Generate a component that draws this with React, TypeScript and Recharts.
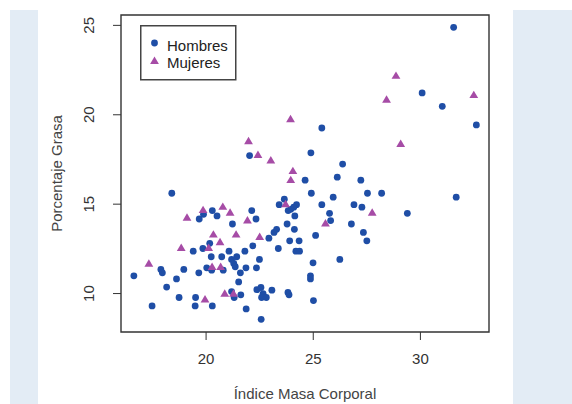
import { ScatterChart, Scatter, XAxis, YAxis, ReferenceArea, Legend } from "recharts";

// Índice de masa corporal (x) y porcentaje de grasa (y)
const hombresX = [
  31.55, 30.08, 31.02, 32.61, 25.4, 24.89, 22.03, 26.37, 26.12, 24.62, 27.22, 18.4, 24.91, 27.53, 28.19,
  31.67, 25.93, 23.65, 23.41, 25.4, 26.9, 27.27, 24.22, 24.09, 23.95, 23.83, 20.29, 22.13, 25.76, 29.39,
  20.51, 19.88, 19.68, 22.33, 24.14, 25.81, 21.23, 26.78, 23.78, 24.12, 27.34, 23.29, 23.17, 25.11, 22.93,
  23.9, 24.34, 27.5, 20.17, 22.18, 23.37, 19.85, 19.4, 21.07, 21.81, 24.19, 24.36, 20.24, 20.73, 21.43,
  21.19, 22.49, 26.24, 21.29, 24.99, 21.36, 21.86, 22.35, 20.03, 18.96, 17.89, 17.96, 19.66, 20.26, 20.8,
  21.6, 16.63, 24.87, 24.87, 18.62, 21.52, 18.16, 22.37, 22.56, 23.07, 22.66, 23.82, 23.87, 21.19, 21.62,
  18.74, 19.51, 22.59, 22.81, 21.31, 17.48, 19.49, 20.29, 25.01, 21.87, 22.57,
];
const hombresY = [
  24.89, 21.22, 20.47, 19.43, 19.26, 17.87, 17.72, 17.24, 16.51, 16.34, 16.34, 15.61, 15.61, 15.61, 15.61,
  15.39, 15.39, 15.28, 14.97, 14.97, 14.97, 14.83, 14.97, 14.83, 14.71, 14.64, 14.64, 14.64, 14.49, 14.49,
  14.34, 14.43, 14.17, 14.17, 14.34, 14.08, 13.89, 13.89, 13.89, 13.59, 13.42, 13.59, 13.42, 13.25, 13.1,
  12.95, 12.95, 12.95, 12.81, 12.67, 12.52, 12.52, 12.37, 12.37, 12.37, 12.37, 12.37, 12.06, 12.06, 12.06,
  11.91, 11.91, 11.91, 11.68, 11.72, 11.5, 11.44, 11.44, 11.44, 11.35, 11.35, 11.16, 11.16, 11.31, 11.31,
  11.16, 10.99, 10.99, 10.82, 10.82, 10.65, 10.36, 10.22, 10.34, 10.19, 10.0, 10.06, 9.93, 10.11, 9.93,
  9.78, 9.78, 9.78, 9.78, 9.78, 9.31, 9.31, 9.31, 9.61, 9.14, 8.56,
];
const mujeresX = [
  28.86, 32.49, 28.42, 23.94, 29.08, 21.98, 22.42, 23.02, 24.05, 23.95, 19.86, 20.78, 21.12, 23.71, 27.75,
  19.11, 21.93, 25.57, 20.34, 21.4, 22.5, 20.65, 18.84, 20.12, 17.33, 20.28, 20.68, 20.87, 21.28, 19.95,
];
const mujeresY = [
  22.19, 21.11, 20.85, 19.76, 18.38, 18.53, 17.76, 17.46, 16.86, 16.36, 14.68, 14.86, 14.53, 15.01, 14.53,
  14.25, 14.1, 13.93, 13.31, 13.31, 13.18, 12.88, 12.56, 12.56, 11.68, 11.5, 11.5, 10.0, 10.0, 9.68,
];

const xTicks = [20, 25, 30];
const yTicks = [10, 15, 20, 25];
const xDomain = [16.03, 33.2];
const yDomain = [7.85, 25.58];

const hombres = hombresX.map((x, i) => ({ x, y: hombresY[i] }));
const mujeres = mujeresX.map((x, i) => ({ x, y: mujeresY[i] }));

const BLUE = "#1f4ea6";
const PURPLE = "#a64ca6";
const FONT = "'Liberation Sans', Arial, sans-serif";

const Circle = (p: any) => <circle cx={p.cx} cy={p.cy} r={3.4} fill={BLUE} />;
const Triangle = (p: any) => (
  <polygon
    points={`${p.cx},${p.cy - 4.2} ${p.cx - 4.4},${p.cy + 3.2} ${p.cx + 4.4},${p.cy + 3.2}`}
    fill={PURPLE}
  />
);

const YTick = (props: any) => {
  const { x, y, payload } = props;
  const cx = x - 22;
  return (
    <text
      x={cx}
      y={y}
      dy="0.35em"
      textAnchor="middle"
      transform={`rotate(-90 ${cx} ${y})`}
      fill="#333"
      fontSize={15}
      fontFamily={FONT}
    >
      {payload.value}
    </text>
  );
};

const LegendBox = () => (
  <svg width={97} height={56} style={{ display: "block" }}>
    <rect x={0.75} y={0.75} width={95} height={54} fill="#fff" stroke="#444" strokeWidth={1.5} />
    <circle cx={14.5} cy={18} r={3.4} fill={BLUE} />
    <text x={27} y={25.5} fontSize={15} fontFamily={FONT} fill="#222">
      Hombres
    </text>
    <polygon points="14.5,31.5 10.1,38.9 18.9,38.9" fill={PURPLE} />
    <text x={27} y={43} fontSize={15} fontFamily={FONT} fill="#222">
      Mujeres
    </text>
  </svg>
);

export default function App() {
  return (
    <div style={{ position: "absolute", left: 0, top: 0, width: 572, height: 404, background: "#fff" }}>
      <div style={{ position: "absolute", left: 10, top: 10, width: 28, height: 394, background: "#e3ecf5" }} />
      <div style={{ position: "absolute", left: 513, top: 10, width: 59, height: 394, background: "#e3ecf5" }} />
      <div style={{ position: "absolute", left: 0, top: 0 }}>
        <ScatterChart width={572} height={404} margin={{ top: 15, right: 83, bottom: 0, left: 0 }}>
          <XAxis
            type="number"
            dataKey="x"
            domain={xDomain}
            ticks={xTicks}
            allowDataOverflow
            height={72}
            axisLine={false}
            tickLine={{ stroke: "#333" }}
            tickSize={8}
            tickMargin={13}
            tick={{ fill: "#333", fontSize: 15, fontFamily: FONT }}
            label={{
              content: (p: any) => (
                <text
                  x={p.viewBox.x + p.viewBox.width / 2}
                  y={p.viewBox.y + p.viewBox.height - 5}
                  textAnchor="middle"
                  fill="#444"
                  fontSize={15}
                  fontFamily={FONT}
                >
                  Índice Masa Corporal
                </text>
              ),
            }}
          />
          <YAxis
            type="number"
            dataKey="y"
            domain={yDomain}
            ticks={yTicks}
            allowDataOverflow
            width={121}
            axisLine={false}
            tickLine={{ stroke: "#333" }}
            tickSize={8}
            tick={<YTick />}
            label={{
              content: (p: any) => {
                const cx = p.viewBox.x + 57;
                const cy = p.viewBox.y + p.viewBox.height / 2;
                return (
                  <text
                    x={cx}
                    y={cy}
                    dy="0.35em"
                    textAnchor="middle"
                    transform={`rotate(-90 ${cx} ${cy})`}
                    fill="#444"
                    fontSize={15}
                    fontFamily={FONT}
                  >
                    Porcentaje Grasa
                  </text>
                );
              },
            }}
          />
          <ReferenceArea
            x1={xDomain[0]}
            x2={xDomain[1]}
            y1={yDomain[0]}
            y2={yDomain[1]}
            fill="none"
            stroke="#333"
            strokeWidth={1.4}
            ifOverflow="visible"
          />
          <Legend
            layout="vertical"
            align="center"
            verticalAlign="middle"
            wrapperStyle={{ left: 140, top: 25, width: 97 }}
            content={() => <LegendBox />}
          />
          <Scatter name="Hombres" data={hombres} shape={Circle} isAnimationActive={false} />
          <Scatter name="Mujeres" data={mujeres} shape={Triangle} isAnimationActive={false} />
        </ScatterChart>
      </div>
    </div>
  );
}
